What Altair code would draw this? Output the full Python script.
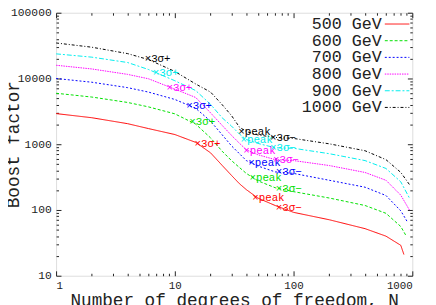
import altair as alt
import pandas as pd

# ---- data ----
series = ["500 GeV", "600 GeV", "700 GeV", "800 GeV", "900 GeV", "1000 GeV"]
colors = ["#ff0000", "#00e000", "#0000ff", "#ff00ff", "#00eeee", "#000000"]
dashes = [[1, 0], [3, 2], [2, 2], [1.5, 1], [5, 2, 2, 2], [3, 2, 1, 2]]

n_grid = [1, 2, 4, 6, 10, 15, 20, 25, 30, 35, 40, 50, 70, 100, 200, 400, 600, 800]
n_end = [850, 883, 918, 955, 955, 955]

b_500 = [2925, 2530, 2055, 1730, 1405, 1067, 740, 478, 336, 251, 204, 152, 117, 92, 71, 52, 40, 29, 21]
b_600 = [5960, 5220, 4320, 3700, 2900, 2020, 1250, 785, 564, 443, 360, 278, 218, 190, 152, 117, 89, 56, 41]
b_700 = [10000, 8770, 7260, 6210, 4800, 3520, 2245, 1397, 946, 718, 564, 467, 380, 360, 283, 222, 166, 97, 64]
b_800 = [15900, 13960, 11550, 9900, 6890, 5140, 3000, 1940, 1365, 1035, 824, 693, 583, 564, 474, 372, 283, 168, 97]
b_900 = [23700, 21100, 17500, 13700, 9250, 6550, 4040, 2530, 1890, 1430, 1180, 1030, 883, 868, 718, 564, 428, 268, 147]
b_1000 = [34700, 29900, 23900, 19400, 12800, 8240, 6210, 4010, 2730, 1820, 1560, 1385, 1270, 1225, 1014, 796, 583, 373, 238]

# annotation points: (3σ+, peak, 3σ−) per series
ann_text = ["×3σ+", "×peak", "×3σ−"]
ann_n = {
    "500 GeV": [15.5, 47.5, 75],
    "600 GeV": [14, 45, 75],
    "700 GeV": [13.2, 44, 75],
    "800 GeV": [9.0, 40, 71],
    "900 GeV": [6.9, 37.8, 67],
    "1000 GeV": [5.9, 36.3, 67],
}
ann_b = {
    "500 GeV": [1020, 152, 107],
    "600 GeV": [2170, 303, 209],
    "700 GeV": [3770, 525, 372],
    "800 GeV": [7250, 775, 583],
    "900 GeV": [12200, 1160, 884],
    "1000 GeV": [19700, 1540, 1250],
}

x_major = [1, 10, 100, 1000]
y_major = [10, 100, 1000, 10000, 100000]
x_ticks = [m * 10 ** k for k in range(0, 3) for m in range(1, 10)] + [1000]
y_ticks = [m * 10 ** k for k in range(1, 5) for m in range(1, 10)] + [100000]

# ---- build tables ----
all_b = [b_500, b_600, b_700, b_800, b_900, b_1000]
rows = []
for s, bs, ne in zip(series, all_b, n_end):
    for n, b in zip(n_grid + [ne], bs):
        rows.append({"series": s, "N": n, "B": b})
df = pd.DataFrame(rows)

arows = []
for s in series:
    for t, n, b in zip(ann_text, ann_n[s], ann_b[s]):
        arows.append({"series": s, "N": n, "B": b, "label": t})
adf = pd.DataFrame(arows)

W, H = 363, 268
FONT = "Liberation Mono"
major_test = "abs(log(datum.value)/LN10 - round(log(datum.value)/LN10)) < 0.001"
tick_size = {"condition": {"test": major_test, "value": 5}, "value": 2.5}

x_scale = alt.Scale(type="log", domain=[1, 1000], nice=False)
y_scale = alt.Scale(type="log", domain=[10, 100000], nice=False)
color_scale = alt.Scale(domain=series, range=colors)
dash_scale = alt.Scale(domain=series, range=dashes)

legend = alt.Legend(
    title=None, orient="none", legendX=339, legendY=3, symbolType="M-2.5,0L2.5,0", symbolSize=100,
    symbolStrokeWidth=1, labelAlign="right", labelOffset={"expr": "-24"}, labelFont=FONT,
    labelFontSize=17, labelColor="#222", rowPadding={"expr": "-6"}, padding=0,
)

tick_axis_common = dict(labels=False, domain=False, grid=False, title=None,
                        tickSize=tick_size, tickColor="#222", tickWidth=1)

lines = alt.Chart(df).mark_line(strokeWidth=1, clip=True).encode(
    x=alt.X("N:Q", scale=x_scale, axis=alt.Axis(
        orient="bottom", values=x_major, format="d", ticks=False, domain=False, grid=False,
        labelFont=FONT, labelFontSize=11, labelColor="#222", labelPadding=4,
        title="Number of degrees of freedom, N", titleFont=FONT, titleFontSize=18,
        titleFontWeight="normal", titleColor="#222", titleY=30, titleBaseline="alphabetic")),
    y=alt.Y("B:Q", scale=y_scale, axis=alt.Axis(
        orient="left", values=y_major, format="d", ticks=False, domain=False, grid=False,
        labelFont=FONT, labelFontSize=11.5, labelColor="#222", labelPadding=5,
        title="Boost factor", titleFont=FONT, titleFontSize=18, titleFontWeight="normal",
        titleColor="#222", titleX=-38, titleBaseline="alphabetic")),
    color=alt.Color("series:N", scale=color_scale, legend=legend),
    strokeDash=alt.StrokeDash("series:N", scale=dash_scale, legend=legend),
)

ann = alt.Chart(adf).mark_text(align="left", baseline="middle", dx=-3, font=FONT, fontSize=11).encode(
    x=alt.X("N:Q", scale=x_scale, axis=alt.Axis(orient="top", offset=-H, values=x_ticks, **tick_axis_common)),
    y=alt.Y("B:Q", scale=y_scale, axis=alt.Axis(orient="right", offset=-W, values=y_ticks, **tick_axis_common)),
    text="label:N",
    color=alt.Color("series:N", scale=color_scale, legend=None),
)

ghost = alt.Chart(adf).mark_point(opacity=0).encode(
    x=alt.X("N:Q", scale=x_scale, axis=alt.Axis(orient="bottom", offset=-H, values=x_ticks, **tick_axis_common)),
    y=alt.Y("B:Q", scale=y_scale, axis=alt.Axis(orient="left", offset=-W, values=y_ticks, **tick_axis_common)),
)

chart = alt.layer(lines, ann, ghost).resolve_axis(x="independent", y="independent").properties(
    width=W, height=H, autosize="none",
    padding={"left": 49, "top": 2, "right": 16, "bottom": 27},
).configure_view(stroke="#222", strokeWidth=1).configure(background="white")

chart.save("out.html", embed_options={"renderer": "svg", "actions": False})
